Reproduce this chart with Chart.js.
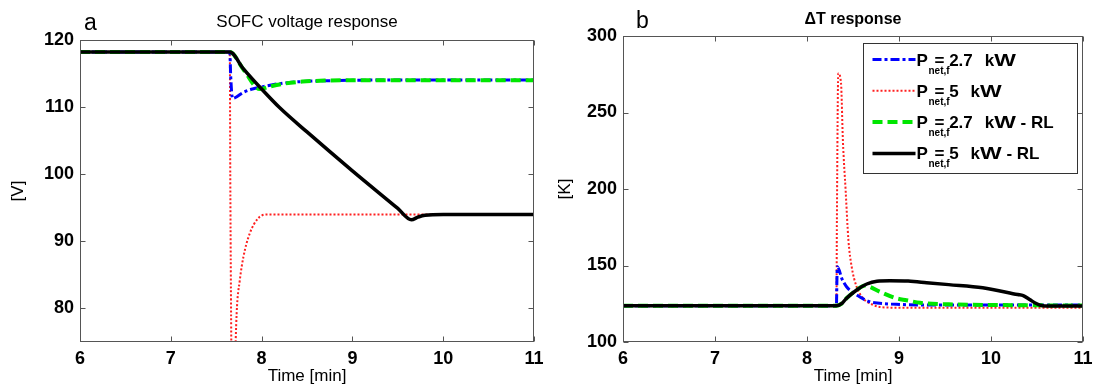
<!DOCTYPE html>
<html>
<head>
<meta charset="utf-8">
<script src="https://cdn.jsdelivr.net/npm/chart.js@4.4.1/dist/chart.umd.min.js"></script>
<style>
  body { margin: 0; background: #fff; }
  #wrap { position: relative; width: 1094px; height: 389px; background: #fff; }
  #wrap canvas { position: absolute; top: 0; }
  #voltChart { left: 0; }
  #tempChart { left: 547px; }
</style>
</head>
<body>
<div id="wrap">
  <canvas id="voltChart" width="547" height="389"></canvas>
  <canvas id="tempChart" width="547" height="389"></canvas>
</div>
<script>
// ======================
// Ticks and names
// ======================
const timeTicks = [6, 7, 8, 9, 10, 11];
const voltTicks = [80, 90, 100, 110, 120];
const dTTicks = [100, 150, 200, 250, 300];
const seriesNames = ['2.7 kW', '5 kW', '2.7 kW - RL', '5 kW - RL'];

// ======================
// Panel a - SOFC voltage [V]
// ======================
const vBlueT  = [6, 7.65, 7.66, 7.68, 7.8, 7.9, 8.0, 8.2, 8.5, 8.8, 9.0, 10, 11];
const vBlueV  = [118.2, 118.2, 114.5, 111.3, 112.2, 112.7, 113.0, 113.5, 113.85, 113.95, 114.0, 114.05, 114.05];

const vRedT   = [6, 7.65, 7.655, 7.685, 7.705, 7.725, 7.76, 7.8, 7.87, 7.96, 8.05, 8.2, 9.0, 10, 11];
const vRedV   = [118.2, 118.2, 100, 55, 70, 79.2, 84.2, 87.7, 91.2, 93.4, 94.0, 94.0, 94.0, 94.0, 94.0];

const vGreenT = [6, 7.65, 7.8, 7.98, 8.1, 8.25, 8.45, 8.7, 9.0, 10, 11];
const vGreenV = [118.2, 118.2, 115.6, 112.7, 113.1, 113.5, 113.8, 113.95, 114.0, 114.0, 114.0];

const vBlackT = [6, 7.65, 7.8, 8.0, 8.2, 8.5, 9.0, 9.5, 9.65, 9.72, 9.8, 10, 11];
const vBlackV = [118.2, 118.2, 115.7, 112.7, 109.9, 106.3, 100.5, 94.9, 93.2, 93.6, 93.9, 94.0, 94.0];

// ======================
// Panel b - delta T [K]
// ======================
const tBlueT  = [6, 8.32, 8.325, 8.33, 8.38, 8.43, 8.54, 8.68, 8.79, 8.97, 9.3, 10, 11];
const tBlueV  = [123.7, 123.7, 140, 149.2, 141.3, 136.1, 130.7, 126.3, 125.3, 124.6, 124.2, 124.2, 124.2];

const tRedT   = [6, 8.32, 8.325, 8.34, 8.37, 8.39, 8.42, 8.45, 8.486, 8.54, 8.61, 8.72, 8.8, 9.0, 10, 11];
const tRedV   = [123.7, 123.7, 180, 275.5, 269, 232, 199, 166.7, 149, 136, 128.6, 124.2, 122.8, 122.4, 122.4, 122.4];

const tGreenT = [6, 8.32, 8.38, 8.43, 8.54, 8.63, 8.68, 8.79, 8.97, 9.08, 9.23, 9.54, 10.0, 10.45, 11];
const tGreenV = [123.7, 123.7, 125.3, 128.6, 134, 137, 136.2, 132.9, 128.6, 127.3, 125.6, 124.6, 124.2, 124.0, 123.8];

const tBlackT = [6, 8.32, 8.38, 8.43, 8.54, 8.65, 8.76, 8.9, 9.1, 9.3, 9.54, 9.91, 10.29, 10.35, 10.42, 10.48, 10.56, 10.7, 11];
const tBlackV = [123.7, 123.7, 125.3, 128.6, 134, 137.9, 139.7, 140, 139.8, 138.8, 137.5, 135.4, 131, 130.3, 127.8, 125.5, 123.7, 123.5, 123.5];

// ======================
// Styles
// ======================
const FONT = '"Liberation Sans", Arial, sans-serif';
const lineStyles = [
  { borderColor: '#0000ff', borderWidth: 3,   borderDash: [9, 3, 3, 3], order: 2 },
  { borderColor: '#ff2020', borderWidth: 2,   borderDash: [2, 2],       order: 3 },
  { borderColor: '#00e600', borderWidth: 4,   borderDash: [10, 5],      order: 1 },
  { borderColor: '#000000', borderWidth: 3.5, borderDash: [],           order: 0 }
];

function xy(ts, vs) {
  return ts.map((t, i) => ({ x: t, y: vs[i] }));
}

function makeDatasets(series) {
  return series.map((s, i) => Object.assign({
    label: seriesNames[i],
    data: xy(s[0], s[1]),
    pointRadius: 0,
    fill: false,
    tension: 0,
    cubicInterpolationMode: 'monotone'
  }, lineStyles[i]));
}

// ======================
// Frame, inner ticks, titles (MATLAB look)
// ======================
const matlabPlugin = {
  id: 'matlab',
  afterDatasetsDraw(chart, args, opts) {
    const { ctx, chartArea: a, scales: { x, y } } = chart;
    const L = Math.round(a.left) + 0.5, R = Math.round(a.right) - 0.5;
    const T = Math.round(a.top) + 0.5, B = Math.round(a.bottom) - 0.5;
    ctx.save();
    ctx.strokeStyle = '#555';
    ctx.lineWidth = 1;
    ctx.setLineDash([]);
    ctx.beginPath();
    x.ticks.forEach(t => {
      const px = Math.round(x.getPixelForValue(t.value)) + 0.5;
      ctx.moveTo(px, B); ctx.lineTo(px, B - 5);
      ctx.moveTo(px, T); ctx.lineTo(px, T + 5);
    });
    y.ticks.forEach(t => {
      const py = Math.round(y.getPixelForValue(t.value)) + 0.5;
      ctx.moveTo(L, py); ctx.lineTo(L + 5, py);
      ctx.moveTo(R, py); ctx.lineTo(R - 5, py);
    });
    ctx.stroke();
    ctx.strokeRect(L, T, R - L, B - T);
    ctx.restore();
  },
  afterDraw(chart, args, opts) {
    const { ctx, chartArea: a } = chart;
    ctx.save();
    ctx.fillStyle = '#000';
    ctx.textBaseline = 'alphabetic';
    ctx.font = opts.titleFont;
    ctx.textAlign = 'center';
    ctx.fillText(opts.title, (a.left + a.right) / 2, opts.titleY);
    ctx.font = '23px ' + FONT;
    ctx.textAlign = 'left';
    ctx.fillText(opts.letter, opts.letterX, opts.letterY);
    ctx.restore();
  }
};

// legend with P_net,f subscripts
const subLegendPlugin = {
  id: 'subLegend',
  afterDraw(chart, args, opts) {
    if (!opts.show) return;
    const { ctx, chartArea: a } = chart;
    const bx = Math.round(a.right - 6 - 214) + 0.5, by = Math.round(a.top + 7) + 0.5;
    ctx.save();
    ctx.fillStyle = '#fff';
    ctx.fillRect(bx, by, 214, 130);
    ctx.strokeStyle = '#333';
    ctx.lineWidth = 1;
    ctx.strokeRect(bx, by, 214, 130);

    chart.data.datasets.forEach((ds, i) => {
      const ly = by + 16 + i * 31.3;
      ctx.strokeStyle = ds.borderColor;
      ctx.lineWidth = ds.borderWidth;
      ctx.setLineDash(ds.borderDash);
      ctx.beginPath();
      ctx.moveTo(bx + 9, ly);
      ctx.lineTo(bx + 52, ly);
      ctx.stroke();
      ctx.setLineDash([]);

      const tx = bx + 53, base = ly + 6;
      ctx.fillStyle = '#000';
      ctx.textAlign = 'left';
      ctx.textBaseline = 'alphabetic';
      ctx.font = 'bold 17px ' + FONT;
      ctx.fillText('P', tx, base);
      ctx.font = 'bold 10px ' + FONT;
      ctx.fillText('net,f', tx + 12, base + 8);
      ctx.font = 'bold 17px ' + FONT;
      const parts = ds.label.split('kW');
      const head = '= ' + parts[0].trim();
      let cx = tx + 18;
      ctx.fillText(head, cx, base);
      cx += ctx.measureText(head).width + 12;
      ctx.fillText('k', cx, base);
      cx += ctx.measureText('k').width;
      ctx.save();
      ctx.translate(cx, base);
      ctx.scale(1.35, 1);
      ctx.fillText('W', 0, 0);
      ctx.restore();
      cx += ctx.measureText('W').width * 1.35;
      if (parts[1]) ctx.fillText(parts[1], cx, base);
    });
    ctx.restore();
  }
};

function makeConfig(p) {
  const tickFont = { family: FONT, size: 18, weight: 'bold' };
  const axisFont = { family: FONT, size: 17 };
  return {
    type: 'line',
    data: { datasets: makeDatasets(p.series) },
    options: {
      responsive: false,
      animation: false,
      devicePixelRatio: 1,
      layout: { padding: { left: 0, top: p.padTop, right: p.padRight, bottom: 0 } },
      plugins: {
        legend: { display: false },
        tooltip: { enabled: false },
        matlab: p.matlab,
        subLegend: { show: p.legend }
      },
      scales: {
        x: {
          type: 'linear', min: 6, max: 11,
          afterBuildTicks: s => { s.ticks = timeTicks.map(v => ({ value: v })); },
          afterFit: s => { s.height = 47; s.paddingLeft = 0; s.paddingRight = 0; },
          grid: { display: false, drawTicks: false },
          border: { display: false },
          ticks: { color: '#000', font: tickFont, padding: 6, maxRotation: 0, autoSkip: false },
          title: { display: true, text: 'Time [min]', color: '#000', font: axisFont, padding: { top: 0, bottom: 2 } }
        },
        y: {
          type: 'linear', min: p.yMin, max: p.yMax,
          afterBuildTicks: s => { s.ticks = p.yTicks.map(v => ({ value: v })); },
          afterFit: s => { s.width = p.yWidth; s.paddingTop = 0; s.paddingBottom = 0; },
          grid: { display: false, drawTicks: false },
          border: { display: false },
          ticks: { color: '#000', font: tickFont, padding: 6, autoSkip: false },
          title: { display: true, text: p.yTitle, color: '#000', font: axisFont, padding: { top: 8, bottom: 0 } }
        }
      }
    },
    plugins: [matlabPlugin, subLegendPlugin]
  };
}

// ======================
// Charts
// ======================
const voltChart = new Chart(document.getElementById('voltChart'), makeConfig({
  series: [[vBlueT, vBlueV], [vRedT, vRedV], [vGreenT, vGreenV], [vBlackT, vBlackV]],
  yMin: 75, yMax: 120, yTicks: voltTicks, yTitle: '[V]', yWidth: 80,
  padTop: 40, padRight: 13, legend: false,
  matlab: { title: 'SOFC voltage response', titleFont: '17px ' + FONT, titleY: 27, letter: 'a', letterX: 84, letterY: 29.5 }
}));

const tempChart = new Chart(document.getElementById('tempChart'), makeConfig({
  series: [[tBlueT, tBlueV], [tRedT, tRedV], [tGreenT, tGreenV], [tBlackT, tBlackV]],
  yMin: 100, yMax: 300, yTicks: dTTicks, yTitle: '[K]', yWidth: 76,
  padTop: 36, padRight: 11, legend: true,
  matlab: { title: '\u0394T response', titleFont: 'bold 16px ' + FONT, titleY: 24, letter: 'b', letterX: 89, letterY: 28 }
}));
</script>
</body>
</html>
